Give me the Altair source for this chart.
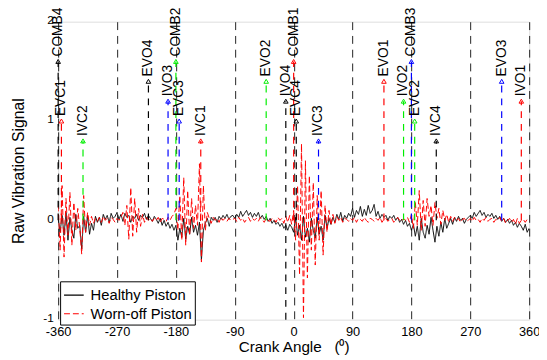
import altair as alt
import pandas as pd

# ---- signal data (crank angle grid, degrees) ----
crank_angle = list(range(-360, 361, 3))  # 241 samples

healthy = [
    # -360 .. -333
    0.02, -0.12, 0.05, -0.15, 0.08, -0.20, 0.03, -0.10, -0.18, 0.06,
    # -330 .. -303
    -0.08, -0.05, -0.29, 0.04, -0.12, 0.05, -0.14, -0.03, -0.10, 0.04,
    # -300 .. -273
    -0.02, 0.03, -0.05, 0.06, 0.01, 0.05, -0.02, 0.07, 0.02, 0.04,
    # -270 .. -243
    0.08, 0.01, 0.06, -0.01, 0.07, 0.03, 0.05, -0.02, 0.04, 0.02,
    # -240 .. -213
    0.06, 0.00, 0.05, 0.03, 0.07, 0.01, 0.05, 0.02, -0.01, 0.04,
    # -210 .. -183
    0.01, -0.03, 0.02, -0.05, 0.00, -0.06, -0.02, -0.08, -0.04, -0.10,
    # -180 .. -153
    -0.05, -0.20, -0.08, -0.17, 0.02, -0.19, -0.06, -0.14, 0.03, -0.12,
    # -150 .. -123
    -0.05, -0.15, -0.02, -0.40, -0.10, -0.03, 0.02, -0.06, 0.03, 0.00,
    # -120 .. -93
    0.03, -0.02, 0.04, 0.01, 0.05, 0.02, 0.06, 0.01, 0.04, 0.05,
    # -90 .. -63
    0.02, 0.06, 0.03, 0.09, 0.04, 0.07, 0.10, 0.05, 0.08, 0.03,
    # -60 .. -33
    0.07, 0.04, 0.08, 0.02, 0.05, 0.01, 0.04, -0.01, 0.02, -0.03,
    # -30 .. -3
    0.00, -0.04, -0.02, -0.06, -0.03, -0.08, -0.05, -0.10, -0.04, -0.07,
    # 0 .. 27
    -0.12, 0.03, -0.15, -0.05, -0.20, 0.04, -0.17, -0.08, -0.22, 0.02,
    # 30 .. 57
    -0.10, -0.18, 0.03, -0.14, -0.06, -0.20, 0.05, -0.08, 0.02, -0.04,
    # 60 .. 87
    0.03, -0.02, 0.06, 0.01, 0.08, -0.01, 0.05, 0.02, 0.07, 0.04,
    # 90 .. 117
    0.12, 0.03, 0.10, 0.06, 0.14, 0.04, 0.11, 0.05, 0.15, 0.07,
    # 120 .. 147
    0.10, 0.16, 0.04, 0.09, 0.02, 0.06, 0.03, 0.05, 0.00, 0.04,
    # 150 .. 177
    0.02, 0.05, 0.00, 0.03, -0.02, 0.01, -0.04, 0.00, -0.06, -0.03,
    # 180 .. 207
    -0.10, -0.04, -0.16, -0.06, -0.20, 0.02, -0.12, -0.18, -0.05, -0.14,
    # 210 .. 237
    0.03, -0.10, -0.22, -0.06, -0.16, -0.02, -0.12, 0.02, -0.08, -0.03,
    # 240 .. 267
    0.02, -0.04, 0.03, -0.01, 0.04, 0.00, 0.02, -0.03, 0.01, 0.03,
    # 270 .. 297
    0.05, 0.02, 0.08, 0.04, 0.07, 0.10, 0.05, 0.08, 0.03, 0.06,
    # 300 .. 327
    0.04, 0.07, 0.02, 0.05, 0.01, 0.04, -0.01, 0.02, -0.02, 0.01,
    # 330 .. 357
    -0.03, 0.00, -0.05, -0.02, -0.07, -0.03, -0.06, -0.10, -0.04, -0.12,
    # 360
    -0.08,
]

worn = [
    # -360 .. -333
    0.15, -0.30, 0.35, -0.37, 0.22, -0.15, 0.28, -0.25, 0.18, -0.10,
    # -330 .. -303
    0.12, -0.08, -0.34, 0.25, -0.12, 0.08, -0.05, 0.04, -0.03, 0.02,
    # -300 .. -273
    -0.01, 0.03, -0.02, 0.04, 0.00, 0.02, -0.03, 0.03, 0.01, -0.02,
    # -270 .. -243
    0.02, 0.00, 0.03, 0.08, -0.05, 0.15, -0.19, 0.33, -0.16, 0.22,
    # -240 .. -213
    -0.12, 0.12, -0.06, 0.06, -0.02, 0.03, 0.00, 0.02, -0.01, 0.02,
    # -210 .. -183
    0.00, 0.03, -0.02, 0.02, 0.01, -0.01, 0.03, 0.00, 0.04, 0.06,
    # -180 .. -153
    0.12, -0.10, 0.25, -0.20, 0.43, -0.25, 0.30, -0.15, 0.22, -0.08,
    # -150 .. -123
    0.15, -0.05, 0.57, -0.42, 0.35, -0.10, 0.08, 0.02, -0.03, 0.03,
    # -120 .. -93
    0.00, 0.02, -0.02, 0.03, 0.00, 0.02, -0.01, 0.02, 0.00, 0.01,
    # -90 .. -63
    0.02, -0.01, 0.03, 0.00, 0.02, -0.02, 0.01, 0.03, -0.01, 0.02,
    # -60 .. -33
    0.00, 0.02, -0.01, 0.03, 0.01, -0.02, 0.02, 0.00, -0.01, 0.02,
    # -30 .. -3
    0.01, -0.02, 0.03, 0.00, 0.02, -0.03, 0.04, -0.02, 0.05, -0.04,
    # 0 .. 27
    0.10, -0.20, 0.35, -0.55, 0.77, -0.98, 0.60, -0.58, 0.45, -0.30,
    # 30 .. 57
    0.38, -0.45, 0.25, -0.20, 0.30, -0.35, 0.15, -0.12, 0.10, -0.05,
    # 60 .. 87
    0.06, -0.03, 0.04, 0.00, 0.03, -0.02, 0.02, 0.01, -0.01, 0.02,
    # 90 .. 117
    0.00, 0.03, -0.02, 0.02, 0.01, -0.01, 0.03, 0.00, -0.02, 0.02,
    # 120 .. 147
    0.01, -0.01, 0.02, 0.00, 0.03, -0.02, 0.01, 0.02, -0.01, 0.01,
    # 150 .. 177
    0.02, -0.02, 0.01, 0.03, 0.00, -0.01, 0.02, 0.00, 0.03, -0.02,
    # 180 .. 207
    0.06, -0.08, 0.18, -0.05, 0.30, -0.10, 0.20, -0.06, 0.22, 0.04,
    # 210 .. 237
    0.15, -0.05, 0.18, 0.02, 0.12, -0.04, 0.10, 0.00, 0.06, -0.02,
    # 240 .. 267
    0.04, -0.01, 0.03, 0.00, 0.02, -0.02, 0.01, 0.02, -0.01, 0.00,
    # 270 .. 297
    0.02, -0.01, 0.03, 0.00, 0.01, -0.02, 0.02, 0.00, 0.03, -0.01,
    # 300 .. 327
    0.01, 0.02, -0.02, 0.01, 0.00, 0.03, -0.01, 0.02, -0.03, 0.00,
    # 330 .. 357
    0.02, -0.02, 0.01, -0.04, 0.02, -0.03, 0.00, 0.01, -0.02, 0.01,
    # 360
    0.00,
]

series_names = ["Healthy Piston", "Worn-off Piston"]

# ---- valve / combustion events ----
event_names = ["COMB4", "EVC1", "IVC2", "EVO4", "IVO3", "COMB2", "EVC3", "IVC1",
               "EVO2", "IVO4", "COMB1", "EVC4", "IVC3", "EVO1", "IVO2", "COMB3",
               "EVC2", "IVC4", "EVO3", "IVO1"]
event_angles = [-360, -355, -322, -222, -192, -180, -175, -142,
                -42, -12, 0, 4, 38, 138, 168, 180,
                185, 218, 318, 348]
event_cylinder = [4, 1, 2, 4, 3, 2, 3, 1,
                  2, 4, 1, 4, 3, 1, 2, 3,
                  2, 4, 3, 1]
event_height = [1.6, 1.0, 0.8, 1.4, 1.2, 1.6, 1.0, 0.8,
                1.4, 1.2, 1.6, 1.0, 0.8, 1.4, 1.2, 1.6,
                1.0, 0.8, 1.4, 1.2]
event_base = [0, 0, 0, 0, 0, 0, 0, 0,
              0, -1, 0, 0, 0, 0, 0, 0,
              0, 0, 0, 0]

x_ticks = [-360, -270, -180, -90, 0, 90, 180, 270, 360]
y_ticks = [-1, 0, 1, 2]

FONT = "Liberation Sans"
NBSP = "\u00a0"

sig_df = pd.DataFrame({
    "angle": crank_angle * 2,
    "value": healthy + worn,
    "series": [series_names[0]] * len(healthy) + [series_names[1]] * len(worn),
})
ev_df = pd.DataFrame({
    "name": event_names,
    "angle": event_angles,
    "cyl": event_cylinder,
    "height": event_height,
    "base": event_base,
})

x_scale = alt.Scale(domain=[-360, 360], nice=False, zero=False)
y_scale = alt.Scale(domain=[-1, 2], nice=False, zero=False)

x_axis = alt.Axis(
    values=x_ticks, title="Crank Angle" + NBSP * 3 + "(⁰)", labelExpr="datum.value + ''",
    labelFlush=False, ticks=False, domain=False, labelFontSize=13, labelFont=FONT,
    labelColor="black", labelPadding=6, titleFontSize=15.5, titleFont=FONT,
    titleFontWeight="normal", titleColor="black", titlePadding=1,
    grid=True, gridColor="#222222", gridDash=[8, 6], gridWidth=1, gridOpacity=1,
)
y_axis = alt.Axis(
    values=y_ticks, title="Raw Vibration Signal", labelExpr="datum.value + ''",
    labelFlush=False, ticks=False, domain=False, labelFontSize=12, labelFont=FONT,
    labelColor="black", labelPadding=5, labelOffset=-2, titleFontSize=16, titleFont=FONT,
    titleFontWeight="normal", titleColor="black", titlePadding=17, grid=False,
)

signals = alt.Chart(sig_df).mark_line(strokeWidth=1, clip=True).encode(
    x=alt.X("angle:Q", scale=x_scale, axis=x_axis),
    y=alt.Y("value:Q", scale=y_scale, axis=y_axis),
    color=alt.Color(
        "series:N",
        scale=alt.Scale(domain=series_names, range=["#000000", "#ff0000"]),
        legend=alt.Legend(
            title=None, orient="none", legendX=2, legendY=264,
            strokeColor="black", fillColor="white", padding=3,
            symbolType="stroke", symbolSize=400, symbolStrokeWidth=1.2,
            labelFontSize=15, labelFont=FONT, labelColor="black",
            rowPadding=0, cornerRadius=0, labelOffset=6,
        ),
    ),
    strokeDash=alt.StrokeDash(
        "series:N",
        scale=alt.Scale(domain=series_names, range=[[1, 0], [6, 3]]),
        legend=alt.Legend(title=None, orient="none", legendX=2, legendY=264),
    ),
)

cyl_color = alt.Color(
    "cyl:N",
    scale=alt.Scale(domain=[1, 2, 3, 4], range=["#ff0000", "#00ee00", "#0000ff", "#000000"]),
    legend=None,
)

rules = alt.Chart(ev_df).mark_rule(strokeDash=[7, 6], strokeWidth=1.2).encode(
    x=alt.X("angle:Q", scale=x_scale),
    y=alt.Y("base:Q", scale=y_scale),
    y2="height:Q",
    color=cyl_color,
)

markers = alt.Chart(ev_df).mark_point(
    shape="triangle-up", filled=False, size=22, strokeWidth=1, opacity=1
).encode(
    x=alt.X("angle:Q", scale=x_scale),
    y=alt.Y("height:Q", scale=y_scale),
    color=cyl_color,
)

labels = alt.Chart(ev_df).mark_text(
    angle=270, align="left", baseline="middle", dx=5, fontSize=14,
    font=FONT, color="black",
).encode(
    x=alt.X("angle:Q", scale=x_scale),
    y=alt.Y("height:Q", scale=y_scale),
    text="name:N",
)

chart = alt.layer(signals, rules, markers, labels).resolve_scale(
    color="independent", strokeDash="independent"
).properties(
    width=479, height=303,
    padding={"left": 51, "top": 11, "right": 10, "bottom": 33},
    autosize=alt.AutoSizeParams(type="none"),
).configure_view(
    stroke="black", strokeWidth=1
).configure(background="white")

chart.save("out.html", embed_options={"renderer": "svg", "actions": False})
